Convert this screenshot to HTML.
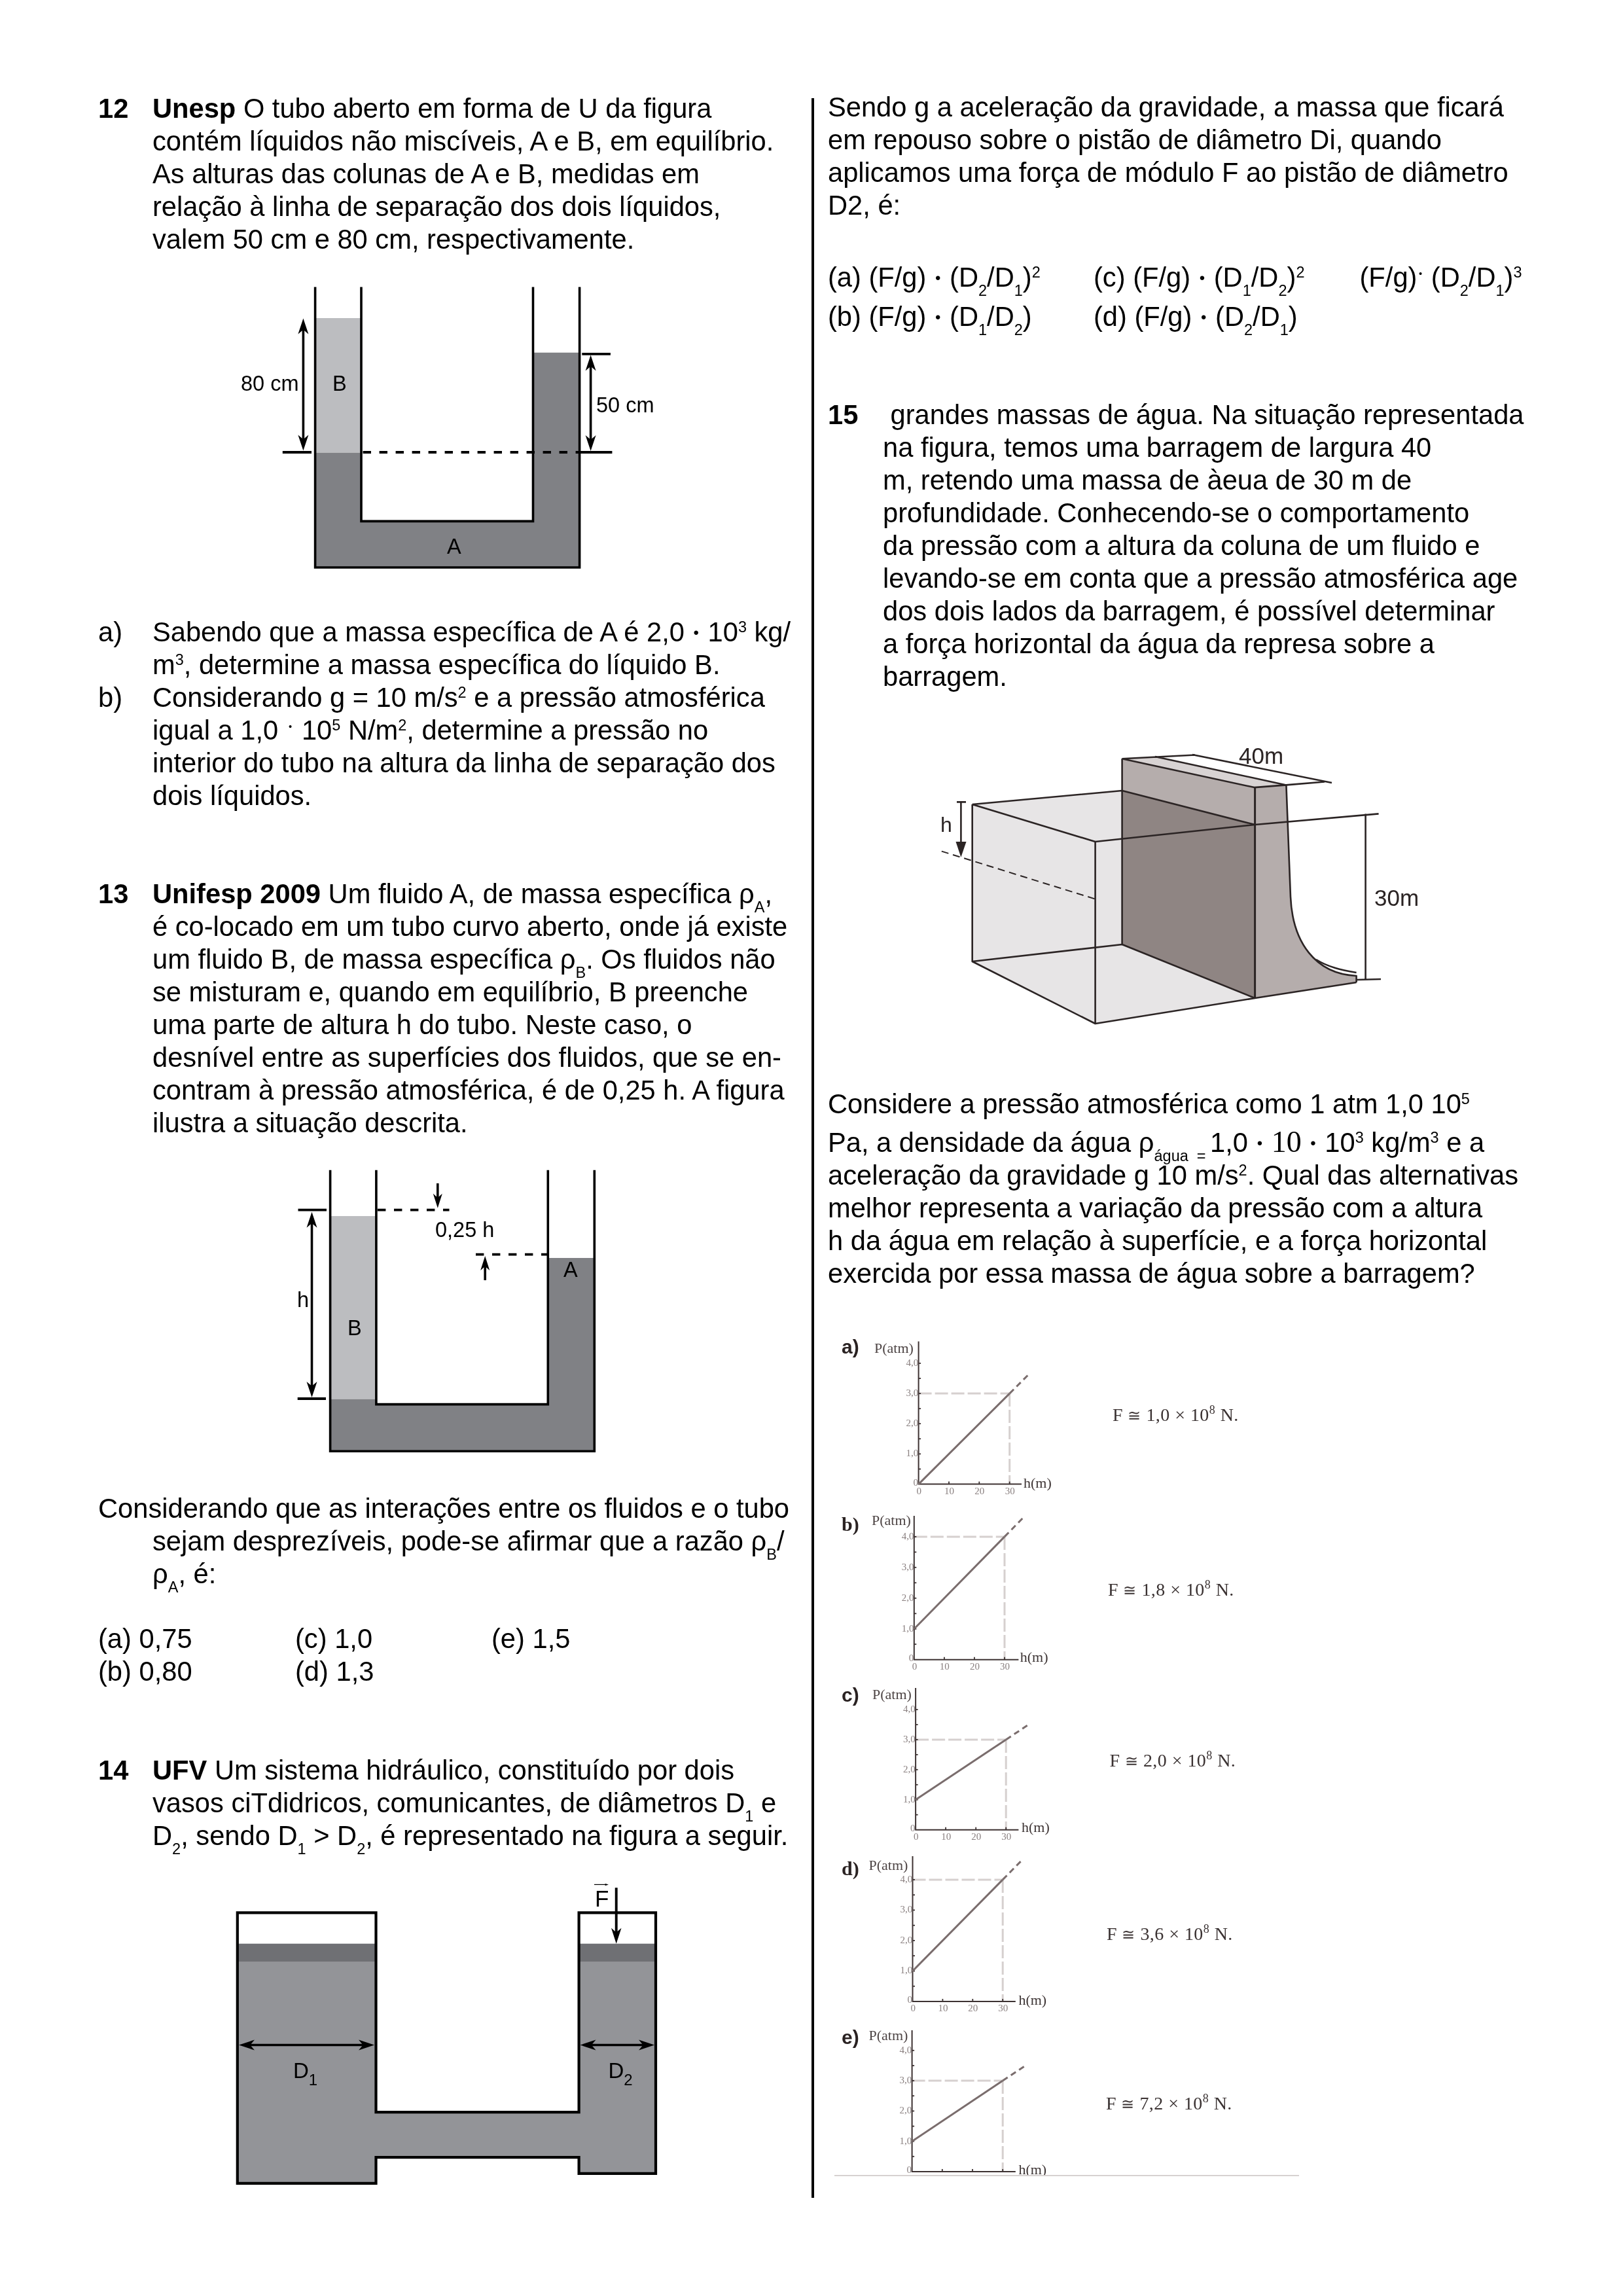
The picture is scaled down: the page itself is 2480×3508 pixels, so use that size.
<!DOCTYPE html>
<html><head><meta charset="utf-8"><title>Hidrostática</title>
<style>
html,body{margin:0;padding:0;background:#fff;}
body{width:2480px;height:3508px;overflow:hidden;position:relative;}
svg{position:absolute;left:0;top:0;will-change:transform;}
text{font-family:"Liberation Sans",sans-serif;font-size:41.67px;white-space:pre;}
text.serif{font-family:"Liberation Serif",serif;}
</style></head>
<body>
<svg width="2480" height="3508" viewBox="0 0 2480 3508">
<defs><filter id="bl" x="-5%" y="-5%" width="110%" height="110%"><feGaussianBlur stdDeviation="0.7"/></filter></defs>
<text x="150" y="180"><tspan font-weight="bold">12</tspan></text>
<text x="233" y="180"><tspan font-weight="bold">Unesp</tspan> O tubo aberto em forma de U da figura</text>
<text x="233" y="230">contém líquidos não miscíveis, A e B, em equilíbrio.</text>
<text x="233" y="280">As alturas das colunas de A e B, medidas em</text>
<text x="233" y="330">relação à linha de separação dos dois líquidos,</text>
<text x="233" y="380">valem 50 cm e 80 cm, respectivamente.</text>
<rect x="481.6" y="486" width="70.4" height="205.8" fill="#bcbdc0"/>
<path d="M481.6,691.8 L552,691.8 L552,796.4 L814.5,796.4 L814.5,538.8 L885.6,538.8 L885.6,867 L481.6,867 Z" fill="#808185" stroke="none" stroke-width="0" />
<path d="M481.6,438.5 L481.6,867 L885.6,867 L885.6,438.5 M552,438.5 L552,796.4 L814.5,796.4 L814.5,438.5" fill="none" stroke="#000" stroke-width="3.6" stroke-linejoin="miter" stroke-linecap="butt"/>
<line x1="554.6" y1="691" x2="886" y2="691" stroke="#000" stroke-width="3.8" stroke-dasharray="12.4 12.6"/>
<line x1="431.8" y1="691" x2="476" y2="691" stroke="#000" stroke-width="3.8" />
<line x1="886" y1="691" x2="935.4" y2="691" stroke="#000" stroke-width="3.8" />
<line x1="889.3" y1="540.8" x2="932.9" y2="540.8" stroke="#000" stroke-width="3.8" />
<line x1="463.4" y1="500.9" x2="463.4" y2="674.2" stroke="#000" stroke-width="3.6" />
<path d="M463.4,486.5 L471.4,510.5 L463.4,503.8 L455.4,510.5 Z" fill="#000" stroke="none" stroke-width="0" />
<path d="M463.4,688.6 L455.4,664.6 L463.4,671.3 L471.4,664.6 Z" fill="#000" stroke="none" stroke-width="0" />
<line x1="902.6" y1="556.9" x2="902.6" y2="674.6" stroke="#000" stroke-width="3.6" />
<path d="M902.6,542.5 L910.6,566.5 L902.6,559.8 L894.6,566.5 Z" fill="#000" stroke="none" stroke-width="0" />
<path d="M902.6,689.0 L894.6,665.0 L902.6,671.7 L910.6,665.0 Z" fill="#000" stroke="none" stroke-width="0" />
<text x="368" y="596.7" style="font-size:32.5px">80 cm</text>
<text x="508" y="596.7" style="font-size:32.5px">B</text>
<text x="911" y="629.5" style="font-size:32.5px">50 cm</text>
<text x="683" y="846.4" style="font-size:32.5px">A</text>
<text x="150" y="980">a)</text>
<text x="233" y="980">Sabendo que a massa específica de A é 2,0 <tspan font-size="23.99" dx="2.05" dy="-4.86">•</tspan><tspan dx="2.05" dy="4.86">​</tspan> 10<tspan font-size="23.5" dy="-14">3</tspan><tspan dy="14">​</tspan> kg/</text>
<text x="233" y="1030">m<tspan font-size="23.5" dy="-14">3</tspan><tspan dy="14">​</tspan>, determine a massa específica do líquido B.</text>
<text x="150" y="1080">b)</text>
<text x="233" y="1080">Considerando g = 10 m/s<tspan font-size="23.5" dy="-14">2</tspan><tspan dy="14">​</tspan> e a pressão atmosférica</text>
<text x="233" y="1130">igual a 1,0 <tspan font-size="14.76" dx="4.30" dy="-15.11">•</tspan><tspan dx="3.03" dy="15.11">​</tspan> 10<tspan font-size="23.5" dy="-14">5</tspan><tspan dy="14">​</tspan> N/m<tspan font-size="23.5" dy="-14">2</tspan><tspan dy="14">​</tspan>, determine a pressão no</text>
<text x="233" y="1180">interior do tubo na altura da linha de separação dos</text>
<text x="233" y="1230">dois líquidos.</text>
<text x="150" y="1380"><tspan font-weight="bold">13</tspan></text>
<text x="233" y="1380"><tspan font-weight="bold">Unifesp 2009</tspan> Um fluido A, de massa específica ρ<tspan font-size="23.5" dy="14">A</tspan><tspan dy="-14">​</tspan>,</text>
<text x="233" y="1430">é co-locado em um tubo curvo aberto, onde já existe</text>
<text x="233" y="1480">um fluido B, de massa específica ρ<tspan font-size="23.5" dy="14">B</tspan><tspan dy="-14">​</tspan>. Os fluidos não</text>
<text x="233" y="1530">se misturam e, quando em equilíbrio, B preenche</text>
<text x="233" y="1580">uma parte de altura h do tubo. Neste caso, o</text>
<text x="233" y="1630">desnível entre as superfícies dos fluidos, que se en-</text>
<text x="233" y="1680">contram à pressão atmosférica, é de 0,25 h. A figura</text>
<text x="233" y="1730">ilustra a situação descrita.</text>
<rect x="504.6" y="1858" width="70.3" height="279.8" fill="#bcbdc0"/>
<path d="M504.6,2137.8 L574.9,2137.8 L574.9,2145.6 L837.3,2145.6 L837.3,1921.9 L908.3,1921.9 L908.3,2217.3 L504.6,2217.3 Z" fill="#808185" stroke="none" stroke-width="0" />
<path d="M504.6,1787.7 L504.6,2217.3 L908.3,2217.3 L908.3,1787.7 M574.9,1787.7 L574.9,2145.6 L837.3,2145.6 L837.3,1787.7" fill="none" stroke="#000" stroke-width="3.6" />
<line x1="455.5" y1="1848.7" x2="499" y2="1848.7" stroke="#000" stroke-width="3.8" />
<line x1="454.7" y1="2137" x2="498" y2="2137" stroke="#000" stroke-width="3.8" />
<line x1="476.5" y1="1866.1000000000001" x2="476.5" y2="2120.6" stroke="#000" stroke-width="3.6" />
<path d="M476.5,1851.7 L484.5,1875.7 L476.5,1869.0 L468.5,1875.7 Z" fill="#000" stroke="none" stroke-width="0" />
<path d="M476.5,2135.0 L468.5,2111.0 L476.5,2117.7 L484.5,2111.0 Z" fill="#000" stroke="none" stroke-width="0" />
<line x1="577" y1="1848.7" x2="686.5" y2="1848.7" stroke="#000" stroke-width="3.8" stroke-dasharray="12.4 12.6"/>
<line x1="668.8" y1="1808" x2="668.8" y2="1830" stroke="#000" stroke-width="3.6" />
<path d="M668.8,1845.8 L661.8,1823.8 L668.8,1830.0 L675.8,1823.8 Z" fill="#000" stroke="none" stroke-width="0" />
<line x1="727" y1="1916.7" x2="837.3" y2="1916.7" stroke="#000" stroke-width="3.8" stroke-dasharray="12.4 12.6"/>
<line x1="741.2" y1="1935" x2="741.2" y2="1956" stroke="#000" stroke-width="3.6" />
<path d="M741.2,1919.0 L748.2,1941.0 L741.2,1934.8 L734.2,1941.0 Z" fill="#000" stroke="none" stroke-width="0" />
<text x="454" y="1996.6" style="font-size:32.5px">h</text>
<text x="531" y="2039.8" style="font-size:32.5px">B</text>
<text x="665" y="1890.1" style="font-size:32.5px">0,25 h</text>
<text x="861" y="1951" style="font-size:32.5px">A</text>
<text x="150" y="2319">Considerando que as interações entre os fluidos e o tubo</text>
<text x="233" y="2369">sejam desprezíveis, pode-se afirmar que a razão ρ<tspan font-size="23.5" dy="14">B</tspan><tspan dy="-14">​</tspan>/</text>
<text x="233" y="2419">ρ<tspan font-size="23.5" dy="14">A</tspan><tspan dy="-14">​</tspan>, é:</text>
<text x="150" y="2518">(a) 0,75</text>
<text x="451" y="2518">(c) 1,0</text>
<text x="751" y="2518">(e) 1,5</text>
<text x="150" y="2568">(b) 0,80</text>
<text x="451" y="2568">(d) 1,3</text>
<text x="150" y="2719"><tspan font-weight="bold">14</tspan></text>
<text x="233" y="2719"><tspan font-weight="bold">UFV</tspan> Um sistema hidráulico, constituído por dois</text>
<text x="233" y="2769">vasos ciTdidricos, comunicantes, de diâmetros D<tspan font-size="23.5" dy="14">1</tspan><tspan dy="-14">​</tspan> e</text>
<text x="233" y="2819">D<tspan font-size="23.5" dy="14">2</tspan><tspan dy="-14">​</tspan>, sendo D<tspan font-size="23.5" dy="14">1</tspan><tspan dy="-14">​</tspan> &gt; D<tspan font-size="23.5" dy="14">2</tspan><tspan dy="-14">​</tspan>, é representado na figura a seguir.</text>
<path d="M362.8,2997.7 L574.5,2997.7 L574.5,3227.2 L884.6,3227.2 L884.6,2997.7 L1002,2997.7 L1002,3320.8 L884.6,3320.8 L884.6,3296.2 L574.5,3296.2 L574.5,3335.9 L362.8,3335.9 Z" fill="#939498" stroke="none" stroke-width="0" />
<rect x="362.8" y="2969.7" width="211.7" height="28" fill="#6f7074"/>
<rect x="884.6" y="2969.7" width="117.4" height="28" fill="#6f7074"/>
<path d="M574.5,2922.3 L362.8,2922.3 L362.8,3335.9 L574.5,3335.9 L574.5,3296.2 L884.6,3296.2 L884.6,3320.8 L1002,3320.8 L1002,2922.3 L884.6,2922.3 L884.6,3227.2 L574.5,3227.2 Z" fill="none" stroke="#000" stroke-width="4.2" />
<line x1="379.4" y1="3124.5" x2="557.6" y2="3124.5" stroke="#000" stroke-width="3.6" />
<path d="M365.0,3124.5 L389.0,3116.5 L382.3,3124.5 L389.0,3132.5 Z" fill="#000" stroke="none" stroke-width="0" />
<path d="M572.0,3124.5 L548.0,3132.5 L554.7,3124.5 L548.0,3116.5 Z" fill="#000" stroke="none" stroke-width="0" />
<line x1="900.9" y1="3124.5" x2="985.6" y2="3124.5" stroke="#000" stroke-width="3.6" />
<path d="M886.5,3124.5 L910.5,3116.5 L903.8,3124.5 L910.5,3132.5 Z" fill="#000" stroke="none" stroke-width="0" />
<path d="M1000.0,3124.5 L976.0,3132.5 L982.7,3124.5 L976.0,3116.5 Z" fill="#000" stroke="none" stroke-width="0" />
<text x="448" y="3175.4" style="font-size:33px">D<tspan font-size="24" dy="11">1</tspan><tspan dy="-11">​</tspan></text>
<text x="929.5" y="3175.4" style="font-size:33px">D<tspan font-size="24" dy="11">2</tspan><tspan dy="-11">​</tspan></text>
<line x1="941.7" y1="2884.2" x2="941.7" y2="2957" stroke="#000" stroke-width="3.9" />
<path d="M941.7,2969.8 L934.0,2945.8 L941.7,2952.5 L949.5,2945.8 Z" fill="#000" stroke="none" stroke-width="0" />
<text x="909" y="2913" style="font-size:35px">F</text>
<line x1="908" y1="2879.4" x2="927" y2="2879.4" stroke="#000" stroke-width="1.2" />
<path d="M930.0,2879.4 L924.0,2881.2 L925.7,2879.4 L924.0,2877.7 Z" fill="#000" stroke="none" stroke-width="0" />
<line x1="1242" y1="150" x2="1242" y2="3358" stroke="#000" stroke-width="4" />
<text x="1265" y="177.6">Sendo g a aceleração da gravidade, a massa que ficará</text>
<text x="1265" y="228">em repouso sobre o pistão de diâmetro Di, quando</text>
<text x="1265" y="278">aplicamos uma força de módulo F ao pistão de diâmetro</text>
<text x="1265" y="328">D2, é:</text>
<text x="1265" y="437.8">(a) (F/g) <tspan font-size="23.99" dx="2.05" dy="-4.86">•</tspan><tspan dx="2.05" dy="4.86">​</tspan> (D<tspan font-size="23.5" dy="14">2</tspan><tspan dy="-14">​</tspan>/D<tspan font-size="23.5" dy="14">1</tspan><tspan dy="-14">​</tspan>)<tspan font-size="23.5" dy="-14">2</tspan><tspan dy="14">​</tspan></text>
<text x="1671" y="437.8">(c) (F/g) <tspan font-size="23.99" dx="2.05" dy="-4.86">•</tspan><tspan dx="2.05" dy="4.86">​</tspan> (D<tspan font-size="23.5" dy="14">1</tspan><tspan dy="-14">​</tspan>/D<tspan font-size="23.5" dy="14">2</tspan><tspan dy="-14">​</tspan>)<tspan font-size="23.5" dy="-14">2</tspan><tspan dy="14">​</tspan></text>
<text x="2077.5" y="437.8">(F/g)<tspan font-size="14.76" dx="2.60" dy="-15.11">•</tspan><tspan dx="2.03" dy="15.11">​</tspan> (D<tspan font-size="23.5" dy="14">2</tspan><tspan dy="-14">​</tspan>/D<tspan font-size="23.5" dy="14">1</tspan><tspan dy="-14">​</tspan>)<tspan font-size="23.5" dy="-14">3</tspan><tspan dy="14">​</tspan></text>
<text x="1265" y="497.5">(b) (F/g) <tspan font-size="23.99" dx="2.05" dy="-4.86">•</tspan><tspan dx="2.05" dy="4.86">​</tspan> (D<tspan font-size="23.5" dy="14">1</tspan><tspan dy="-14">​</tspan>/D<tspan font-size="23.5" dy="14">2</tspan><tspan dy="-14">​</tspan>)</text>
<text x="1671" y="497.5">(d) (F/g) <tspan font-size="23.99" dx="2.05" dy="-4.86">•</tspan><tspan dx="2.05" dy="4.86">​</tspan> (D<tspan font-size="23.5" dy="14">2</tspan><tspan dy="-14">​</tspan>/D<tspan font-size="23.5" dy="14">1</tspan><tspan dy="-14">​</tspan>)</text>
<text x="1265" y="648"><tspan font-weight="bold">15</tspan></text>
<text x="1349" y="648"> grandes massas de água. Na situação representada</text>
<text x="1349" y="698">na figura, temos uma barragem de largura 40</text>
<text x="1349" y="748">m, retendo uma massa de àeua de 30 m de</text>
<text x="1349" y="798">profundidade. Conhecendo-se o comportamento</text>
<text x="1349" y="848">da pressão com a altura da coluna de um fluido e</text>
<text x="1349" y="898">levando-se em conta que a pressão atmosférica age</text>
<text x="1349" y="948">dos dois lados da barragem, é possível determinar</text>
<text x="1349" y="998">a força horizontal da água da represa sobre a</text>
<text x="1349" y="1048">barragem.</text>
<path d="M1485.7,1229 L1714.6,1208 L1714.6,1443 L1673.6,1564 L1485.7,1469 Z" fill="#e7e5e6" stroke="none" stroke-width="0" />
<path d="M1673.6,1286 L1714.6,1282 L1714.6,1443 L1917.6,1525 L1673.6,1564 Z" fill="#e7e5e6" stroke="none" stroke-width="0" />
<path d="M1714.6,1208 L1917.6,1260 L1917.6,1525 L1714.6,1443 Z" fill="#8f8583" stroke="none" stroke-width="0" />
<path d="M1714.6,1159.3 L1916.7,1203.1 L1917.6,1260 L1714.6,1208 Z" fill="#b5adac" stroke="none" stroke-width="0" />
<path d="M1714.6,1159.3 L1765,1156 L1965.4,1199.4 L1916.7,1203.1 Z" fill="#d8d3d3" stroke="none" stroke-width="0" />
<path d="M1916.7,1203.1 L1965.4,1199.4 L1972,1370 C1975,1440 2010,1488 2072.6,1491 L2072.6,1501 L1917.6,1525 Z" fill="#b5adac" stroke="none" stroke-width="0" />
<path d="M1485.7,1229 L1485.7,1469 L1673.6,1564 L1673.6,1286 L1485.7,1229" stroke="#2b2424" stroke-width="2.6" fill="none" stroke-linejoin="round"/>
<path d="M1485.7,1229 L1714.6,1208 L1917.6,1260" stroke="#2b2424" stroke-width="2.6" fill="none" stroke-linejoin="round"/>
<path d="M1673.6,1286 L1917.6,1260 L2106.6,1243.4" stroke="#2b2424" stroke-width="2.6" fill="none" stroke-linejoin="round"/>
<path d="M1485.7,1469 L1714.6,1443 L1917.6,1525" stroke="#2b2424" stroke-width="2.6" fill="none" stroke-linejoin="round"/>
<path d="M1673.6,1564 L1917.6,1525 L2072.6,1501" stroke="#2b2424" stroke-width="2.6" fill="none" stroke-linejoin="round"/>
<path d="M1714.6,1159.3 L1714.6,1443" stroke="#2b2424" stroke-width="2.6" fill="none" stroke-linejoin="round"/>
<path d="M1917.6,1203.1 L1917.6,1525" stroke="#2b2424" stroke-width="3" fill="none"/>
<path d="M1714.6,1159.3 L1916.7,1203.1 L1965.4,1199.4 L1972,1370 C1975,1440 2010,1488 2072.6,1491 L2072.6,1501" stroke="#2b2424" stroke-width="2.6" fill="none" stroke-linejoin="round"/>
<path d="M2011,1466 C2030,1478 2050,1482 2072.6,1486" stroke="#2b2424" stroke-width="2.6" fill="none" stroke-linejoin="round"/>
<path d="M1714.6,1159.3 L1826,1153.5 M1765,1156 L1965.4,1199.4 M1822,1153 L2035,1196 M1965.4,1199.4 L2024,1194.5" stroke="#2b2424" stroke-width="2.6" fill="none" stroke-linejoin="round" stroke-width="1.6"/>
<path d="M2086.6,1243.4 L2086.6,1497 M2072.6,1497 L2110,1496" stroke="#2b2424" stroke-width="2.6" fill="none" stroke-linejoin="round" stroke-width="1.8"/>
<path d="M1462,1225.4 L1476,1225.4 M1468.4,1225.4 L1468.4,1290" stroke="#2b2424" stroke-width="2.6" fill="none" stroke-linejoin="round" stroke-width="1.8"/>
<path d="M1460.5,1286 L1476.5,1286 L1468.4,1309.8 Z" fill="#2b2424" stroke="none" stroke-width="0" />
<path d="M1438.8,1300.6 L1673.6,1373.6" stroke="#2b2424" stroke-width="2" stroke-dasharray="11 7" fill="none"/>
<text x="1437" y="1271" style="font-size:32px" fill="#2b2424">h</text>
<text x="1893" y="1166.5" style="font-size:35px" fill="#2b2424">40m</text>
<text x="2100" y="1384" style="font-size:35px" fill="#2b2424">30m</text>
<text x="1265" y="1700.5">Considere a pressão atmosférica como 1 atm 1,0 10<tspan font-size="23.5" dy="-14">5</tspan><tspan dy="14">​</tspan></text>
<text x="1265" y="1760.3">Pa, a densidade da água ρ<tspan font-size="23.5" dy="14">água  = </tspan><tspan dy="-14">​</tspan>1,0 <tspan font-size="23.99" dx="2.05" dy="-4.86">•</tspan><tspan dx="2.05" dy="4.86">​</tspan> <tspan font-family="Liberation Serif" font-size="46">10</tspan> <tspan font-size="23.99" dx="2.05" dy="-4.86">•</tspan><tspan dx="2.05" dy="4.86">​</tspan> 10<tspan font-size="23.5" dy="-14">3</tspan><tspan dy="14">​</tspan> kg/m<tspan font-size="23.5" dy="-14">3</tspan><tspan dy="14">​</tspan> e a</text>
<text x="1265" y="1810.3">aceleração da gravidade g 10 m/s<tspan font-size="23.5" dy="-14">2</tspan><tspan dy="14">​</tspan>. Qual das alternativas</text>
<text x="1265" y="1860.2">melhor representa a variação da pressão com a altura</text>
<text x="1265" y="1910.2">h da água em relação à superfície, e a força horizontal</text>
<text x="1265" y="1960.1">exercida por essa massa de água sobre a barragem?</text>
<g filter="url(#bl)">
<text x="1286" y="2068" style="font-size:30px" font-weight="bold" fill="#2a2424">a)</text>
<text x="1336" y="2067" style="font-size:22px" class="serif" fill="#4d4444">P(atm)</text>
<path d="M1403.6,2129.1 L1542.7,2129.1 M1542.7,2129.1 L1542.7,2267.6" stroke="#d6d0cf" stroke-width="3" stroke-dasharray="20 5" fill="none"/>
<path d="M1403.6,2049.6 L1403.6,2267.6 L1561,2267.6" stroke="#3d3333" stroke-width="2" fill="none"/>
<line x1="1403.6" y1="2244.5" x2="1407.1" y2="2244.5" stroke="#3d3333" stroke-width="1.8"/>
<line x1="1403.6" y1="2221.4" x2="1407.1" y2="2221.4" stroke="#3d3333" stroke-width="1.8"/>
<line x1="1403.6" y1="2198.3" x2="1407.1" y2="2198.3" stroke="#3d3333" stroke-width="1.8"/>
<line x1="1403.6" y1="2175.2" x2="1407.1" y2="2175.2" stroke="#3d3333" stroke-width="1.8"/>
<line x1="1403.6" y1="2152.2" x2="1407.1" y2="2152.2" stroke="#3d3333" stroke-width="1.8"/>
<line x1="1403.6" y1="2129.1" x2="1407.1" y2="2129.1" stroke="#3d3333" stroke-width="1.8"/>
<line x1="1403.6" y1="2106.0" x2="1407.1" y2="2106.0" stroke="#3d3333" stroke-width="1.8"/>
<line x1="1403.6" y1="2082.9" x2="1407.1" y2="2082.9" stroke="#3d3333" stroke-width="1.8"/>
<line x1="1450.0" y1="2267.6" x2="1450.0" y2="2263.6" stroke="#3d3333" stroke-width="1.8"/>
<line x1="1496.3" y1="2267.6" x2="1496.3" y2="2263.6" stroke="#3d3333" stroke-width="1.8"/>
<line x1="1542.7" y1="2267.6" x2="1542.7" y2="2263.6" stroke="#3d3333" stroke-width="1.8"/>
<text x="1384.6" y="2086.9" style="font-size:15px" class="serif" fill="#8a8080">4,0</text>
<text x="1384.6" y="2133.075" style="font-size:15px" class="serif" fill="#8a8080">3,0</text>
<text x="1384.6" y="2179.25" style="font-size:15px" class="serif" fill="#8a8080">2,0</text>
<text x="1384.6" y="2225.425" style="font-size:15px" class="serif" fill="#8a8080">1,0</text>
<text x="1395.6" y="2269.6" style="font-size:15px" class="serif" fill="#8a8080">0</text>
<text x="1400.6" y="2282.6" style="font-size:15px" class="serif" fill="#8a8080">0</text>
<text x="1442.9666666666667" y="2282.6" style="font-size:15px" class="serif" fill="#8a8080">10</text>
<text x="1489.3333333333333" y="2282.6" style="font-size:15px" class="serif" fill="#8a8080">20</text>
<text x="1535.7" y="2282.6" style="font-size:15px" class="serif" fill="#8a8080">30</text>
<line x1="1403.6" y1="2267.6" x2="1542.7" y2="2129.1" stroke="#7a6d6d" stroke-width="3"/>
<line x1="1542.7" y1="2129.1" x2="1571.0" y2="2100.8" stroke="#7a6d6d" stroke-width="3" stroke-dasharray="9 6"/>
<text x="1564" y="2273" style="font-size:22px" class="serif" fill="#3d3434">h(m)</text>
<text x="1700" y="2170.5" style="font-size:28px" class="serif" fill="#3a3232" letter-spacing="0.45">F <tspan font-size="24">≅</tspan> 1,0 × 10<tspan font-size="18" dy="-11">8</tspan><tspan dy="11">​</tspan> N.</text>
<text x="1286" y="2339" style="font-size:30px" class="serif" font-weight="bold" fill="#2a2424">b)</text>
<text x="1332" y="2330" style="font-size:22px" class="serif" fill="#4d4444">P(atm)</text>
<path d="M1396.8,2347.9 L1535,2347.9 M1535,2347.9 L1535,2535.7" stroke="#d6d0cf" stroke-width="3" stroke-dasharray="20 5" fill="none"/>
<path d="M1396.8,2316 L1396.8,2535.7 L1556.4,2535.7" stroke="#3d3333" stroke-width="2" fill="none"/>
<line x1="1396.8" y1="2512.2" x2="1400.3" y2="2512.2" stroke="#3d3333" stroke-width="1.8"/>
<line x1="1396.8" y1="2488.8" x2="1400.3" y2="2488.8" stroke="#3d3333" stroke-width="1.8"/>
<line x1="1396.8" y1="2465.3" x2="1400.3" y2="2465.3" stroke="#3d3333" stroke-width="1.8"/>
<line x1="1396.8" y1="2441.8" x2="1400.3" y2="2441.8" stroke="#3d3333" stroke-width="1.8"/>
<line x1="1396.8" y1="2418.3" x2="1400.3" y2="2418.3" stroke="#3d3333" stroke-width="1.8"/>
<line x1="1396.8" y1="2394.8" x2="1400.3" y2="2394.8" stroke="#3d3333" stroke-width="1.8"/>
<line x1="1396.8" y1="2371.4" x2="1400.3" y2="2371.4" stroke="#3d3333" stroke-width="1.8"/>
<line x1="1396.8" y1="2347.9" x2="1400.3" y2="2347.9" stroke="#3d3333" stroke-width="1.8"/>
<line x1="1442.9" y1="2535.7" x2="1442.9" y2="2531.7" stroke="#3d3333" stroke-width="1.8"/>
<line x1="1488.9" y1="2535.7" x2="1488.9" y2="2531.7" stroke="#3d3333" stroke-width="1.8"/>
<line x1="1535.0" y1="2535.7" x2="1535.0" y2="2531.7" stroke="#3d3333" stroke-width="1.8"/>
<text x="1377.8" y="2351.9" style="font-size:15px" class="serif" fill="#8a8080">4,0</text>
<text x="1377.8" y="2398.85" style="font-size:15px" class="serif" fill="#8a8080">3,0</text>
<text x="1377.8" y="2445.8" style="font-size:15px" class="serif" fill="#8a8080">2,0</text>
<text x="1377.8" y="2492.75" style="font-size:15px" class="serif" fill="#8a8080">1,0</text>
<text x="1388.8" y="2537.7" style="font-size:15px" class="serif" fill="#8a8080">0</text>
<text x="1393.8" y="2550.7" style="font-size:15px" class="serif" fill="#8a8080">0</text>
<text x="1435.8666666666666" y="2550.7" style="font-size:15px" class="serif" fill="#8a8080">10</text>
<text x="1481.9333333333334" y="2550.7" style="font-size:15px" class="serif" fill="#8a8080">20</text>
<text x="1528.0" y="2550.7" style="font-size:15px" class="serif" fill="#8a8080">30</text>
<line x1="1396.8" y1="2488.8" x2="1535" y2="2347.9" stroke="#7a6d6d" stroke-width="3"/>
<line x1="1535" y1="2347.9" x2="1563.0" y2="2319.3" stroke="#7a6d6d" stroke-width="3" stroke-dasharray="9 6"/>
<text x="1558.7" y="2539.4" style="font-size:22px" class="serif" fill="#3d3434">h(m)</text>
<text x="1693" y="2437.7" style="font-size:28px" class="serif" fill="#3a3232" letter-spacing="0.45">F <tspan font-size="24">≅</tspan> 1,8 × 10<tspan font-size="18" dy="-11">8</tspan><tspan dy="11">​</tspan> N.</text>
<text x="1286" y="2600" style="font-size:30px" font-weight="bold" fill="#2a2424">c)</text>
<text x="1333" y="2596.4" style="font-size:22px" class="serif" fill="#4d4444">P(atm)</text>
<path d="M1399.1,2657.9 L1537.2,2657.9 M1537.2,2657.9 L1537.2,2795.7" stroke="#d6d0cf" stroke-width="3" stroke-dasharray="20 5" fill="none"/>
<path d="M1399.1,2579 L1399.1,2795.7 L1556.4,2795.7" stroke="#3d3333" stroke-width="2" fill="none"/>
<line x1="1399.1" y1="2772.7" x2="1402.6" y2="2772.7" stroke="#3d3333" stroke-width="1.8"/>
<line x1="1399.1" y1="2749.8" x2="1402.6" y2="2749.8" stroke="#3d3333" stroke-width="1.8"/>
<line x1="1399.1" y1="2726.8" x2="1402.6" y2="2726.8" stroke="#3d3333" stroke-width="1.8"/>
<line x1="1399.1" y1="2703.8" x2="1402.6" y2="2703.8" stroke="#3d3333" stroke-width="1.8"/>
<line x1="1399.1" y1="2680.9" x2="1402.6" y2="2680.9" stroke="#3d3333" stroke-width="1.8"/>
<line x1="1399.1" y1="2657.9" x2="1402.6" y2="2657.9" stroke="#3d3333" stroke-width="1.8"/>
<line x1="1399.1" y1="2635.0" x2="1402.6" y2="2635.0" stroke="#3d3333" stroke-width="1.8"/>
<line x1="1399.1" y1="2612.0" x2="1402.6" y2="2612.0" stroke="#3d3333" stroke-width="1.8"/>
<line x1="1445.1" y1="2795.7" x2="1445.1" y2="2791.7" stroke="#3d3333" stroke-width="1.8"/>
<line x1="1491.2" y1="2795.7" x2="1491.2" y2="2791.7" stroke="#3d3333" stroke-width="1.8"/>
<line x1="1537.2" y1="2795.7" x2="1537.2" y2="2791.7" stroke="#3d3333" stroke-width="1.8"/>
<text x="1380.1" y="2616.0" style="font-size:15px" class="serif" fill="#8a8080">4,0</text>
<text x="1380.1" y="2661.925" style="font-size:15px" class="serif" fill="#8a8080">3,0</text>
<text x="1380.1" y="2707.85" style="font-size:15px" class="serif" fill="#8a8080">2,0</text>
<text x="1380.1" y="2753.7749999999996" style="font-size:15px" class="serif" fill="#8a8080">1,0</text>
<text x="1391.1" y="2797.7" style="font-size:15px" class="serif" fill="#8a8080">0</text>
<text x="1396.1" y="2810.7" style="font-size:15px" class="serif" fill="#8a8080">0</text>
<text x="1438.1333333333332" y="2810.7" style="font-size:15px" class="serif" fill="#8a8080">10</text>
<text x="1484.1666666666667" y="2810.7" style="font-size:15px" class="serif" fill="#8a8080">20</text>
<text x="1530.2" y="2810.7" style="font-size:15px" class="serif" fill="#8a8080">30</text>
<line x1="1399.1" y1="2749.8" x2="1537.2" y2="2657.9" stroke="#7a6d6d" stroke-width="3"/>
<line x1="1537.2" y1="2657.9" x2="1570.5" y2="2635.8" stroke="#7a6d6d" stroke-width="3" stroke-dasharray="9 6"/>
<text x="1561" y="2799.4" style="font-size:22px" class="serif" fill="#3d3434">h(m)</text>
<text x="1695.5" y="2698.6" style="font-size:28px" class="serif" fill="#3a3232" letter-spacing="0.45">F <tspan font-size="24">≅</tspan> 2,0 × 10<tspan font-size="18" dy="-11">8</tspan><tspan dy="11">​</tspan> N.</text>
<text x="1286" y="2865" style="font-size:30px" class="serif" font-weight="bold" fill="#2a2424">d)</text>
<text x="1327.5" y="2857.3" style="font-size:22px" class="serif" fill="#4d4444">P(atm)</text>
<path d="M1394.5,2871.9 L1532.2,2871.9 M1532.2,2871.9 L1532.2,3058" stroke="#d6d0cf" stroke-width="3" stroke-dasharray="20 5" fill="none"/>
<path d="M1394.5,2836 L1394.5,3058 L1551.8,3058" stroke="#3d3333" stroke-width="2" fill="none"/>
<line x1="1394.5" y1="3034.7" x2="1398.0" y2="3034.7" stroke="#3d3333" stroke-width="1.8"/>
<line x1="1394.5" y1="3011.5" x2="1398.0" y2="3011.5" stroke="#3d3333" stroke-width="1.8"/>
<line x1="1394.5" y1="2988.2" x2="1398.0" y2="2988.2" stroke="#3d3333" stroke-width="1.8"/>
<line x1="1394.5" y1="2964.9" x2="1398.0" y2="2964.9" stroke="#3d3333" stroke-width="1.8"/>
<line x1="1394.5" y1="2941.7" x2="1398.0" y2="2941.7" stroke="#3d3333" stroke-width="1.8"/>
<line x1="1394.5" y1="2918.4" x2="1398.0" y2="2918.4" stroke="#3d3333" stroke-width="1.8"/>
<line x1="1394.5" y1="2895.2" x2="1398.0" y2="2895.2" stroke="#3d3333" stroke-width="1.8"/>
<line x1="1394.5" y1="2871.9" x2="1398.0" y2="2871.9" stroke="#3d3333" stroke-width="1.8"/>
<line x1="1440.4" y1="3058" x2="1440.4" y2="3054" stroke="#3d3333" stroke-width="1.8"/>
<line x1="1486.3" y1="3058" x2="1486.3" y2="3054" stroke="#3d3333" stroke-width="1.8"/>
<line x1="1532.2" y1="3058" x2="1532.2" y2="3054" stroke="#3d3333" stroke-width="1.8"/>
<text x="1375.5" y="2875.9" style="font-size:15px" class="serif" fill="#8a8080">4,0</text>
<text x="1375.5" y="2922.425" style="font-size:15px" class="serif" fill="#8a8080">3,0</text>
<text x="1375.5" y="2968.95" style="font-size:15px" class="serif" fill="#8a8080">2,0</text>
<text x="1375.5" y="3015.475" style="font-size:15px" class="serif" fill="#8a8080">1,0</text>
<text x="1386.5" y="3060" style="font-size:15px" class="serif" fill="#8a8080">0</text>
<text x="1391.5" y="3073" style="font-size:15px" class="serif" fill="#8a8080">0</text>
<text x="1433.4" y="3073" style="font-size:15px" class="serif" fill="#8a8080">10</text>
<text x="1479.3" y="3073" style="font-size:15px" class="serif" fill="#8a8080">20</text>
<text x="1525.2" y="3073" style="font-size:15px" class="serif" fill="#8a8080">30</text>
<line x1="1394.5" y1="3011.5" x2="1532.2" y2="2871.9" stroke="#7a6d6d" stroke-width="3"/>
<line x1="1532.2" y1="2871.9" x2="1560.3" y2="2843.4" stroke="#7a6d6d" stroke-width="3" stroke-dasharray="9 6"/>
<text x="1556.4" y="3063.4" style="font-size:22px" class="serif" fill="#3d3434">h(m)</text>
<text x="1691" y="2964" style="font-size:28px" class="serif" fill="#3a3232" letter-spacing="0.45">F <tspan font-size="24">≅</tspan> 3,6 × 10<tspan font-size="18" dy="-11">8</tspan><tspan dy="11">​</tspan> N.</text>
<text x="1286" y="3123" style="font-size:30px" font-weight="bold" fill="#2a2424">e)</text>
<text x="1327.5" y="3117.3" style="font-size:22px" class="serif" fill="#4d4444">P(atm)</text>
<path d="M1393.6,3179.1 L1532.2,3179.1 M1532.2,3179.1 L1532.2,3318" stroke="#d6d0cf" stroke-width="3" stroke-dasharray="20 5" fill="none"/>
<path d="M1393.6,3102 L1393.6,3318 L1551.8,3318" stroke="#3d3333" stroke-width="2" fill="none"/>
<line x1="1393.6" y1="3294.8" x2="1397.1" y2="3294.8" stroke="#3d3333" stroke-width="1.8"/>
<line x1="1393.6" y1="3271.7" x2="1397.1" y2="3271.7" stroke="#3d3333" stroke-width="1.8"/>
<line x1="1393.6" y1="3248.6" x2="1397.1" y2="3248.6" stroke="#3d3333" stroke-width="1.8"/>
<line x1="1393.6" y1="3225.4" x2="1397.1" y2="3225.4" stroke="#3d3333" stroke-width="1.8"/>
<line x1="1393.6" y1="3202.2" x2="1397.1" y2="3202.2" stroke="#3d3333" stroke-width="1.8"/>
<line x1="1393.6" y1="3179.1" x2="1397.1" y2="3179.1" stroke="#3d3333" stroke-width="1.8"/>
<line x1="1393.6" y1="3156.0" x2="1397.1" y2="3156.0" stroke="#3d3333" stroke-width="1.8"/>
<line x1="1393.6" y1="3132.8" x2="1397.1" y2="3132.8" stroke="#3d3333" stroke-width="1.8"/>
<line x1="1439.8" y1="3318" x2="1439.8" y2="3314" stroke="#3d3333" stroke-width="1.8"/>
<line x1="1486.0" y1="3318" x2="1486.0" y2="3314" stroke="#3d3333" stroke-width="1.8"/>
<line x1="1532.2" y1="3318" x2="1532.2" y2="3314" stroke="#3d3333" stroke-width="1.8"/>
<text x="1374.6" y="3136.8" style="font-size:15px" class="serif" fill="#8a8080">4,0</text>
<text x="1374.6" y="3183.1000000000004" style="font-size:15px" class="serif" fill="#8a8080">3,0</text>
<text x="1374.6" y="3229.4" style="font-size:15px" class="serif" fill="#8a8080">2,0</text>
<text x="1374.6" y="3275.7" style="font-size:15px" class="serif" fill="#8a8080">1,0</text>
<text x="1385.6" y="3320" style="font-size:15px" class="serif" fill="#8a8080">0</text>
<line x1="1393.6" y1="3271.7" x2="1532.2" y2="3179.1" stroke="#7a6d6d" stroke-width="3"/>
<line x1="1532.2" y1="3179.1" x2="1565.5" y2="3156.9" stroke="#7a6d6d" stroke-width="3" stroke-dasharray="9 6"/>
<text x="1556.4" y="3322" style="font-size:22px" class="serif" fill="#3d3434">h(m)</text>
<text x="1690" y="3223" style="font-size:28px" class="serif" fill="#3a3232" letter-spacing="0.45">F <tspan font-size="24">≅</tspan> 7,2 × 10<tspan font-size="18" dy="-11">8</tspan><tspan dy="11">​</tspan> N.</text>
</g>
<rect x="1270" y="3325" width="760" height="30" fill="#fff"/>
<line x1="1275" y1="3324" x2="1985" y2="3324" stroke="#d6d1d0" stroke-width="2"/>
</svg>
</body></html>
